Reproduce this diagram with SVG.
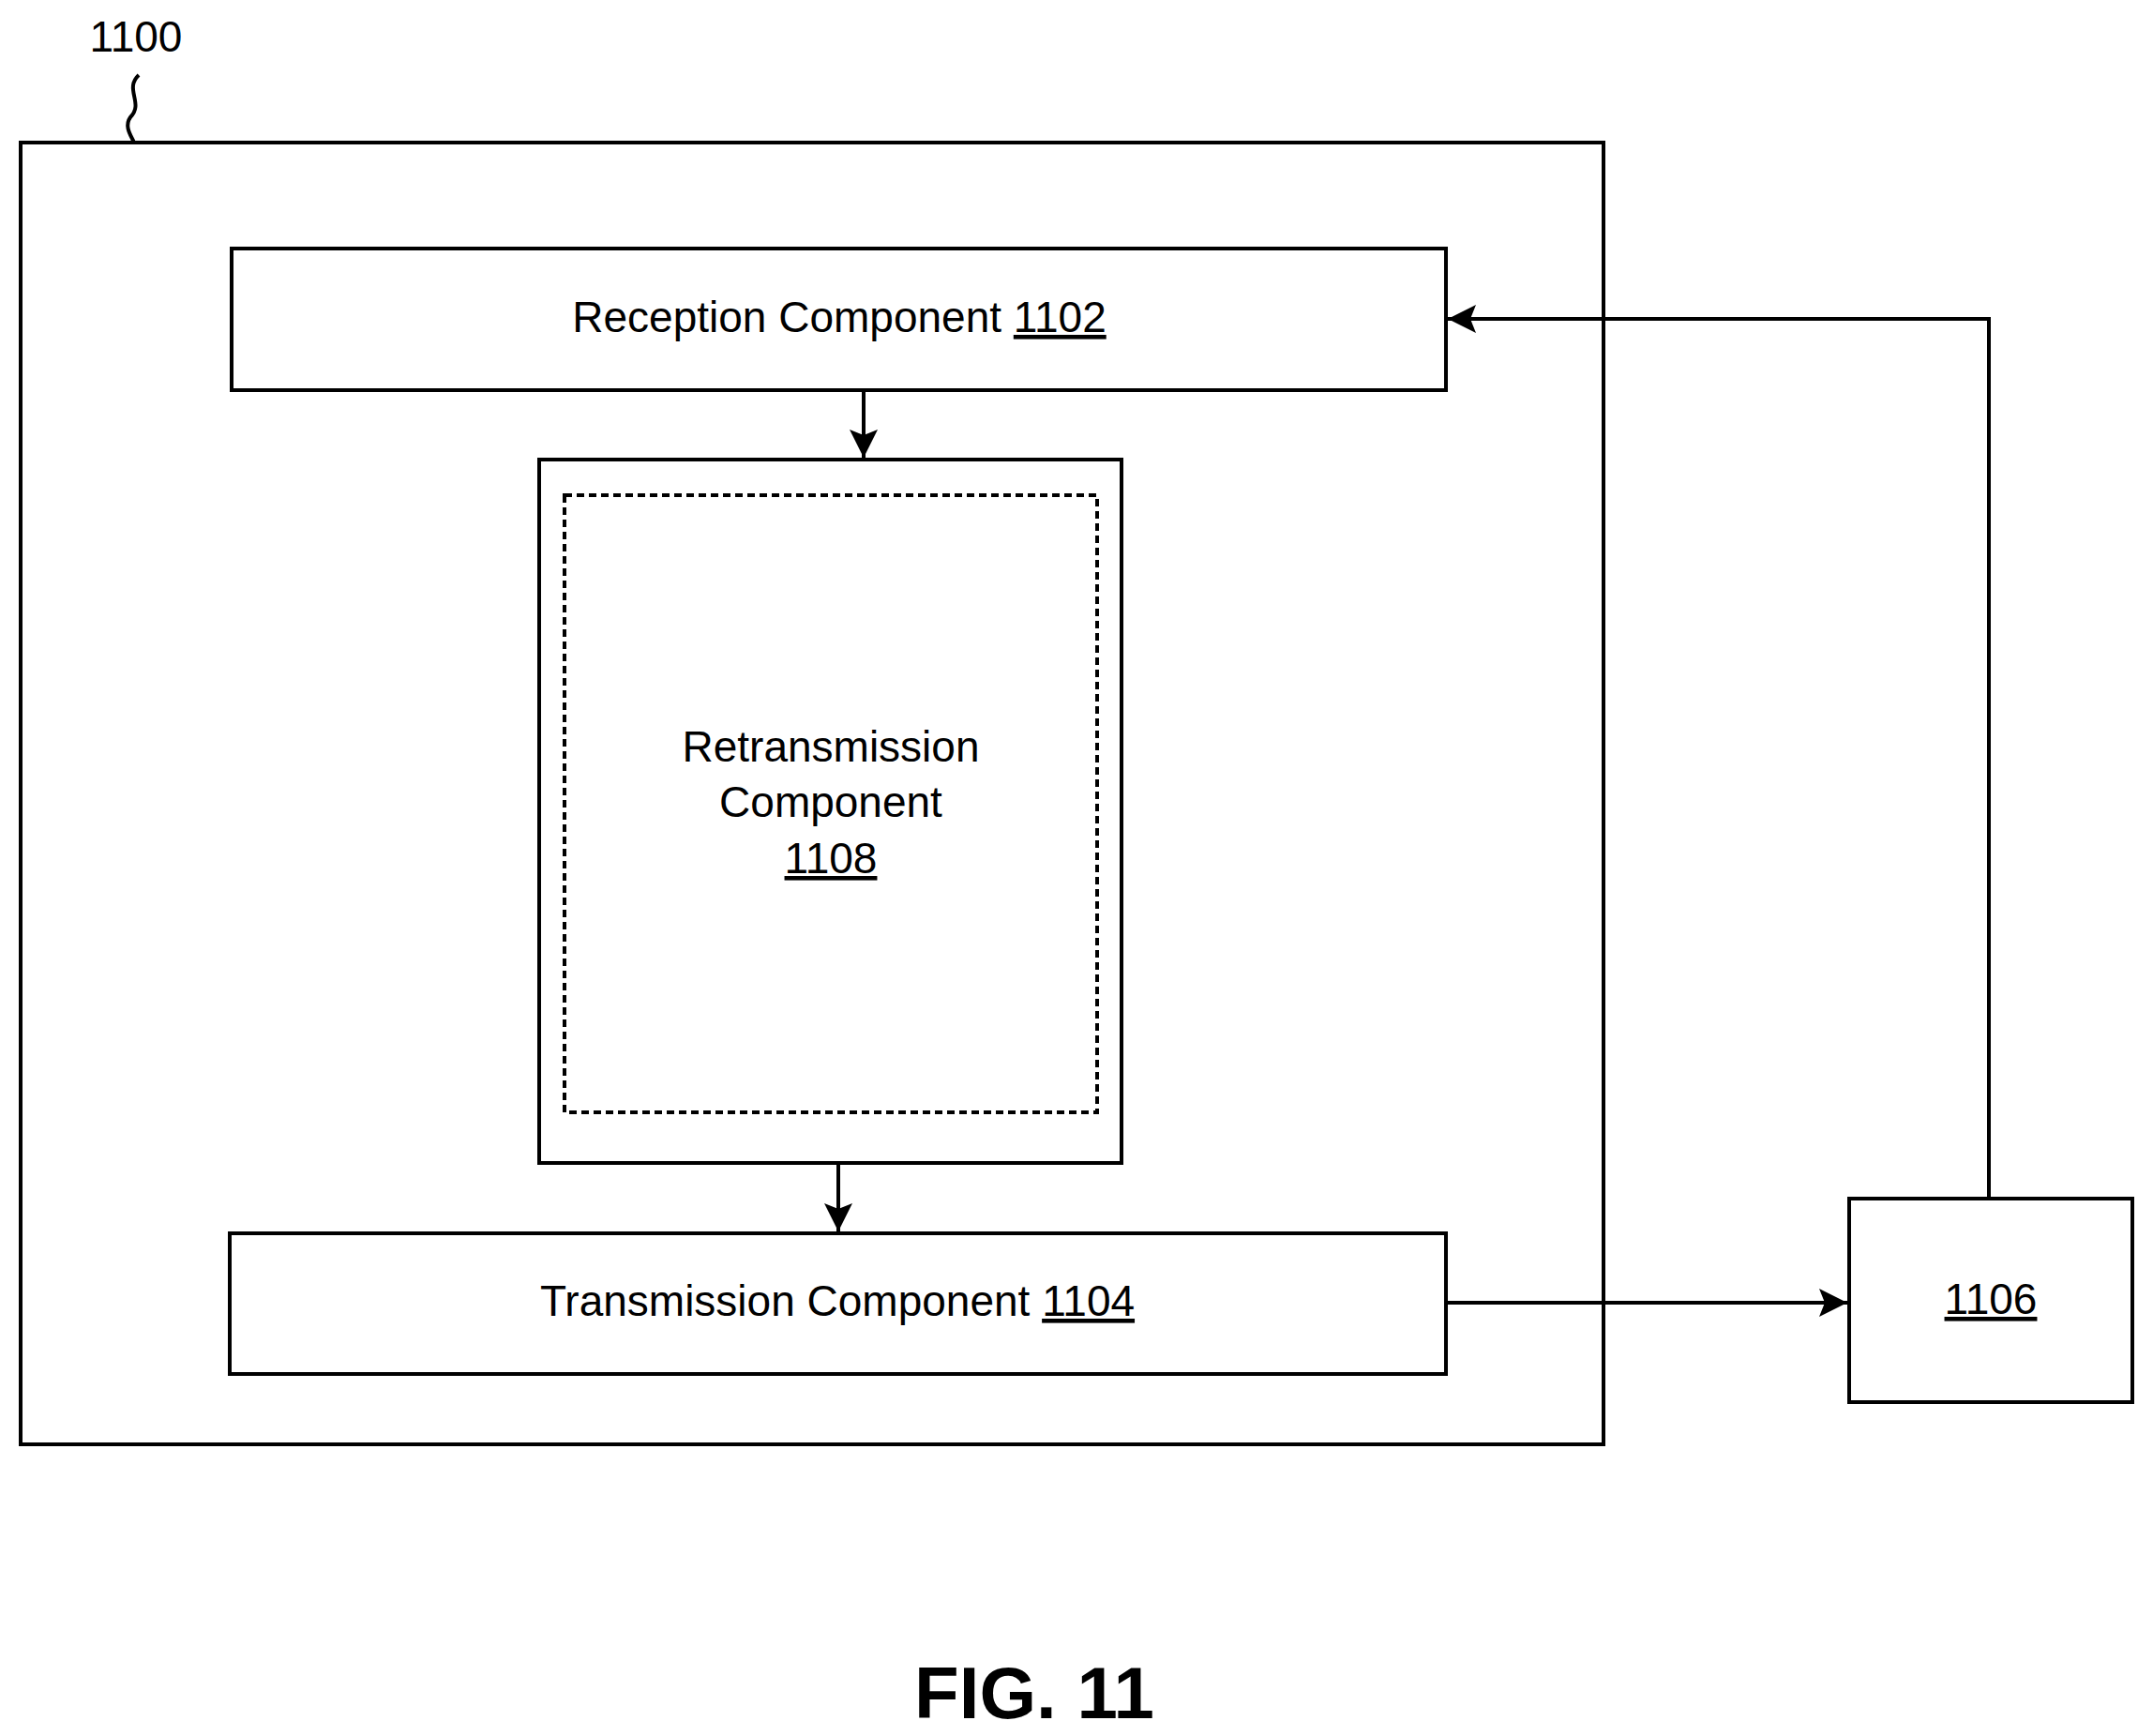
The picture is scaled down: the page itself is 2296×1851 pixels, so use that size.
<svg xmlns="http://www.w3.org/2000/svg" width="2296" height="1851" viewBox="0 0 2296 1851">
<style>
.b{fill:none;stroke:#000;stroke-width:4}
.c{fill:none;stroke:#000;stroke-width:4}
text{font-family:"Liberation Sans",Arial,sans-serif;font-size:46px;fill:#000;text-anchor:middle}
text.fig{font-size:78px;font-weight:bold}
</style>
<defs>
<marker id="m" viewBox="0 0 10 10" refX="10" refY="5" markerWidth="30" markerHeight="30" markerUnits="userSpaceOnUse" orient="auto"><path d="M0,0L10,5L0,10L2,5z" fill="#000"/></marker></defs>
<rect width="2296" height="1851" fill="#fff"/>
<g id="n1100"><rect class="b" x="22" y="152" width="1688" height="1388"/><text x="145" y="55">1100</text><path class="c" d="M148,80 C132,95 154,110 139,125 C132,135 140,145 143,152" stroke-width="3"/></g>
<g id="n1102"><rect class="b" x="247" y="265" width="1295" height="151"/><text x="895" y="354">Reception Component <tspan text-decoration="underline">1102</tspan></text></g>
<g id="n1108"><rect class="b" x="575" y="490" width="621" height="750"/><rect class="b" x="602" y="528" width="568" height="658" stroke-dasharray="8,5"/><text x="886" y="812">Retransmission</text><text x="886" y="871">Component</text><text x="886" y="931" text-decoration="underline">1108</text></g>
<g id="n1104"><rect class="b" x="245" y="1315" width="1297" height="150"/><text x="893" y="1403">Transmission Component <tspan text-decoration="underline">1104</tspan></text></g>
<g id="n1106"><rect class="b" x="1972" y="1278" width="302" height="217"/><text x="2123" y="1401" text-decoration="underline">1106</text></g>
<g id="edges">
<path class="c" d="M921,416V488" marker-end="url(#m)"/>
<path class="c" d="M894,1240V1313" marker-end="url(#m)"/>
<path class="c" d="M1542,1389H1970" marker-end="url(#m)"/>
<path class="c" d="M2121,1278V340H1544" marker-end="url(#m)"/>
</g>
<text class="fig" x="1103" y="1832">FIG. 11</text>
</svg>
